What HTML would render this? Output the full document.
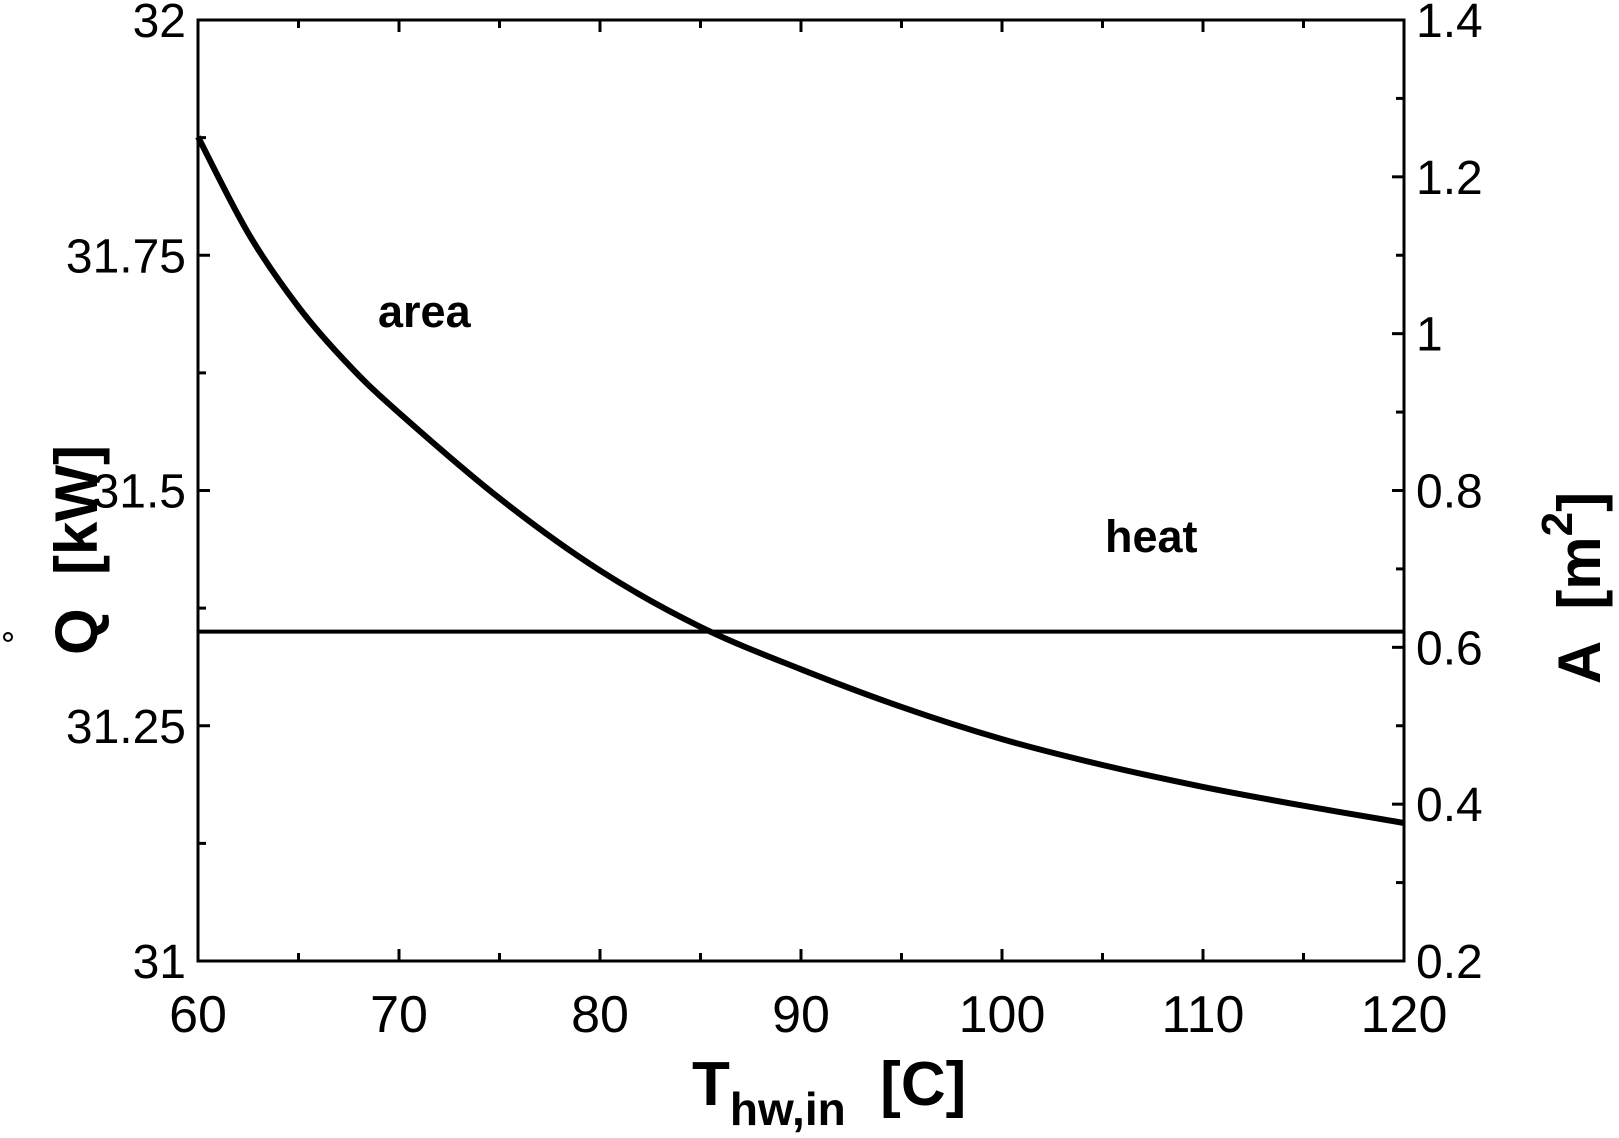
<!DOCTYPE html>
<html><head><meta charset="utf-8"><style>
html,body{margin:0;padding:0;background:#fff;}
svg{display:block;font-family:"Liberation Sans",sans-serif;}
</style></head><body>
<svg id="chart" width="1619" height="1138" viewBox="0 0 1619 1138" xmlns="http://www.w3.org/2000/svg">
<g id="ticks"></g>
<g id="labels" font-size="48"></g>
<path id="area-curve" fill="none" stroke="#000" stroke-width="6" stroke-linejoin="round"/>
<line id="heat-line" stroke="#000" stroke-width="4"/>
<rect x="198" y="20" width="1206" height="941" fill="none" stroke="#000" stroke-width="3"/>
<text x="378" y="327" font-size="45" font-weight="bold">area</text>
<text x="1105" y="552" font-size="45" font-weight="bold">heat</text>
<text transform="translate(97,550) rotate(-90)" text-anchor="middle" font-size="60" font-weight="bold" xml:space="preserve">Q  [kW]</text>
<circle cx="8" cy="637" r="4" fill="none" stroke="#000" stroke-width="2"/>
<text transform="translate(1600,588) rotate(-90)" text-anchor="middle" font-size="60" font-weight="bold" xml:space="preserve">A  [m<tspan dy="-28" font-size="44">2</tspan><tspan dy="28">]</tspan></text>
<text x="692" y="1105" font-size="62" font-weight="bold" xml:space="preserve">T<tspan dy="20" font-size="46">hw,in</tspan><tspan dy="-20">  [C]</tspan></text>
</svg>
<script>
const xTicks=[60,70,80,90,100,110,120];
const yTicks=[31,31.25,31.5,31.75,32];
const yTickLabels=["31","31.25","31.5","31.75","32"];
const y2Ticks=[0.2,0.4,0.6,0.8,1,1.2,1.4];
const y2TickLabels=["0.2","0.4","0.6","0.8","1","1.2","1.4"];
const areaX=[60,62.5,65,67.5,70,75,80,85,90,95,100,105,110,115,120];
const areaY=[1.251,1.128,1.034,0.960,0.899,0.790,0.698,0.626,0.572,0.524,0.483,0.450,0.422,0.398,0.376];
const heatQ=31.35;
const L=198,R=1404,T=20,B=961;
const sx=v=>L+(v-60)/60*(R-L);
const sy=v=>B-(v-31)/1*(B-T);
const sy2=v=>B-(v-0.2)/1.2*(B-T);
const NS="http://www.w3.org/2000/svg";
const tg=document.getElementById('ticks'),lg=document.getElementById('labels');
function ln(x1,y1,x2,y2){const l=document.createElementNS(NS,'line');
l.setAttribute('x1',x1);l.setAttribute('y1',y1);l.setAttribute('x2',x2);l.setAttribute('y2',y2);
l.setAttribute('stroke','#000');l.setAttribute('stroke-width','3');


tg.appendChild(l);}
function tx(x,y,s,a,fs){const t=document.createElementNS(NS,'text');
t.setAttribute('x',x);t.setAttribute('y',y);t.setAttribute('text-anchor',a);if(fs)t.setAttribute('font-size',fs);t.textContent=s;


lg.appendChild(t);}
for(let v=60;v<=120;v+=5){const maj=v%10===0,len=maj?12:8;ln(sx(v),B,sx(v),B-len);ln(sx(v),T,sx(v),T+len);}
xTicks.forEach(v=>tx(sx(v),1032,String(v),'middle',52));
for(let v=31;v<=32.001;v+=0.125){const maj=Math.abs(v*4-Math.round(v*4))<1e-6;ln(L,sy(v),L+(maj?12:8),sy(v));}
yTicks.forEach((v,i)=>tx(186,sy(v)+17,yTickLabels[i],'end'));
for(let v=0.2;v<=1.401;v+=0.1){const maj=Math.round(v*10)%2===0;ln(R,sy2(v),R-(maj?12:8),sy2(v));}
y2Ticks.forEach((v,i)=>tx(1416,sy2(v)+17,y2TickLabels[i],'start'));
const P=areaX.map((x,i)=>[sx(x),sy2(areaY[i])]);
let d='M'+P[0][0].toFixed(1)+' '+P[0][1].toFixed(1);
for(let i=0;i<P.length-1;i++){
  const p0=P[Math.max(0,i-1)],p1=P[i],p2=P[i+1],p3=P[Math.min(P.length-1,i+2)];
  const c1=[p1[0]+(p2[0]-p0[0])/6,p1[1]+(p2[1]-p0[1])/6];
  const c2=[p2[0]-(p3[0]-p1[0])/6,p2[1]-(p3[1]-p1[1])/6];
  d+=' C'+c1[0].toFixed(1)+' '+c1[1].toFixed(1)+' '+c2[0].toFixed(1)+' '+c2[1].toFixed(1)+' '+p2[0].toFixed(1)+' '+p2[1].toFixed(1);
}
document.getElementById('area-curve').setAttribute('d',d);
const h=document.getElementById('heat-line');
h.setAttribute('x1',L);h.setAttribute('x2',R);h.setAttribute('y1',sy(heatQ));h.setAttribute('y2',sy(heatQ));
</script>
</body></html>
